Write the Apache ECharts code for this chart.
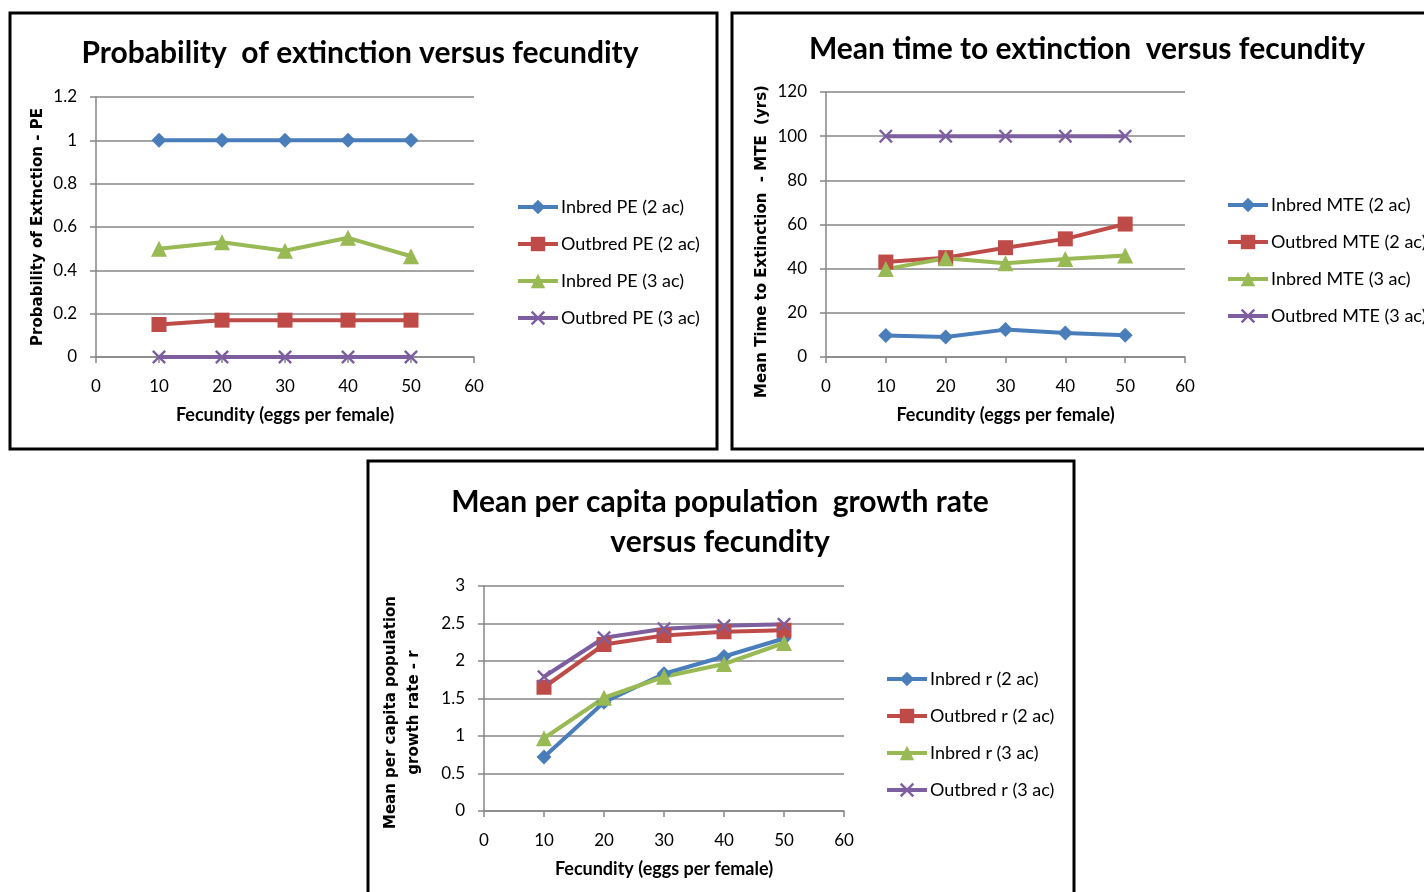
<!DOCTYPE html>
<html>
<head>
<meta charset="utf-8">
<script src="https://cdn.jsdelivr.net/npm/echarts@6/dist/echarts.min.js"></script>
<style>
  html, body { margin: 0; padding: 0; background: #fff; overflow: hidden; }
  #main { width: 1424px; height: 892px; }
</style>
</head>
<body>
<div id="main"></div>
<script>
// fecundity (eggs per female)
const fecundity = [10, 20, 30, 40, 50]

// probability of extinction
const peInbred2 = [1, 1, 1, 1, 1]
const peOutbred2 = [0.15, 0.17, 0.17, 0.17, 0.17]
const peInbred3 = [0.5, 0.53, 0.49, 0.55, 0.465]
const peOutbred3 = [0, 0, 0, 0, 0]

// mean time to extinction (yrs)
const mteInbred2 = [9.7, 9.1, 12.4, 10.9, 9.8]
const mteOutbred2 = [43, 45, 49.5, 53.5, 60.2]
const mteInbred3 = [39.8, 44.7, 42.4, 44.4, 46]
const mteOutbred3 = [100, 100, 100, 100, 100]

// mean per capita growth rate
const rInbred2 = [0.72, 1.45, 1.83, 2.06, 2.3]
const rOutbred2 = [1.65, 2.22, 2.34, 2.39, 2.41]
const rInbred3 = [0.97, 1.51, 1.79, 1.96, 2.24]
const rOutbred3 = [1.79, 2.31, 2.43, 2.47, 2.49]

const BLUE = "#4a7ebb"
const RED = "#be4b48"
const GREEN = "#98b954"
const PURPLE = "#7d5fa0"
const GRAY = "#868686"
const CAL = "Lato, 'Open Sans', sans-serif"
const XMARK = "path://M0,1.2L1.2,0L5,3.8L8.8,0L10,1.2L6.2,5L10,8.8L8.8,10L5,6.2L1.2,10L0,8.8L3.8,5Z"

const pairs = (ys) => fecundity.map((x, i) => [x, ys[i]])

const mkSeries = (name, ys, color, symbol, size, gi) => ({
  name: name,
  type: "line",
  xAxisIndex: gi,
  yAxisIndex: gi,
  data: pairs(ys),
  symbol: symbol,
  symbolSize: size,
  lineStyle: { color: color, width: 4 },
  itemStyle: { color: color },
  z: 3,
})

const mkX = (gi) => ({
  gridIndex: gi,
  type: "value",
  min: 0,
  max: 60,
  interval: 10,
  name: "Fecundity (eggs per female)",
  nameLocation: "middle",
  nameGap: 49,
  nameTextStyle: { fontFamily: CAL, fontWeight: "bold", fontSize: 18, color: "#000" },
  axisLine: { show: true, lineStyle: { color: GRAY, width: 1.5 } },
  axisTick: { show: true, length: 6, lineStyle: { color: GRAY, width: 1.5 } },
  axisLabel: { fontFamily: CAL, fontSize: 17, color: "#000", margin: 21 },
  splitLine: { show: false },
})

const mkY = (gi, max, interval, name, gap, pad) => ({
  gridIndex: gi,
  type: "value",
  min: 0,
  max: max,
  interval: interval,
  name: name,
  nameLocation: "middle",
  nameGap: gap,
  nameTextStyle: { fontFamily: "'DejaVu Sans', Verdana, sans-serif", fontWeight: "bold", fontSize: 15, color: "#000", lineHeight: 23, padding: pad },
  axisLine: { show: true, lineStyle: { color: GRAY, width: 1.5 } },
  axisTick: { show: true, length: 6, lineStyle: { color: GRAY, width: 1.5 } },
  axisLabel: { fontFamily: CAL, fontSize: 17, color: "#000", margin: 19 },
  splitLine: { show: true, lineStyle: { color: GRAY, width: 1.5 } },
})

const mkLegend = (names, left, top) => ({
  data: names,
  orient: "vertical",
  left: left,
  top: top,
  padding: 0,
  itemWidth: 40,
  itemHeight: 18,
  itemGap: 19,
  lineStyle: { width: 4 },
  textStyle: { fontFamily: CAL, fontSize: 18, color: "#000", padding: [0, 0, 0, -2] },
})

const titleStyle = { fontFamily: CAL, fontWeight: "bold", fontSize: 30, color: "#000", lineHeight: 40 }

let myChart = echarts.init(document.getElementById("main"))
myChart.setOption({
  animation: false,
  backgroundColor: "#fff",
  title: [
    { text: "Probability  of extinction versus fecundity", left: 360, top: 33, padding: 0, textAlign: "center", textStyle: titleStyle },
    { text: "Mean time to extinction  versus fecundity", left: 1087, top: 29, padding: 0, textAlign: "center", textStyle: titleStyle },
    { text: "Mean per capita population  growth rate\nversus fecundity", left: 720, top: 482, padding: 0, textAlign: "center", textStyle: titleStyle },
  ],
  graphic: [
    { type: "rect", shape: { x: 10, y: 13, width: 707, height: 436 }, style: { fill: "none", stroke: "#000", lineWidth: 3 } },
    { type: "rect", shape: { x: 732, y: 13, width: 720, height: 436 }, style: { fill: "none", stroke: "#000", lineWidth: 3 } },
    { type: "rect", shape: { x: 368, y: 461, width: 706, height: 460 }, style: { fill: "none", stroke: "#000", lineWidth: 3 } },
  ],
  legend: [
    mkLegend(["Inbred PE (2 ac)", "Outbred PE (2 ac)", "Inbred PE (3 ac)", "Outbred PE (3 ac)"], 516, 198),
    mkLegend(["Inbred MTE (2 ac)", "Outbred MTE (2 ac)", "Inbred MTE (3 ac)", "Outbred MTE (3 ac)"], 1226, 196),
    mkLegend(["Inbred r (2 ac)", "Outbred r (2 ac)", "Inbred r (3 ac)", "Outbred r (3 ac)"], 885, 670),
  ],
  grid: [
    { left: 96, top: 97, width: 378, height: 260 },
    { left: 826, top: 92, width: 359, height: 265 },
    { left: 484, top: 586, width: 360, height: 225 },
  ],
  xAxis: [mkX(0), mkX(1), mkX(2)],
  yAxis: [
    mkY(0, 1.2, 0.2, "Probability of Extnction - PE", 46, 0),
    mkY(1, 120, 20, "Mean Time to Extinction  - MTE  (yrs)", 51, [0, 34, 0, 0]),
    mkY(2, 3, 0.5, "Mean per capita population\ngrowth rate - r", 58, [0, 28, 0, 0]),
  ],
  series: [
    mkSeries("Inbred PE (2 ac)", peInbred2, BLUE, "diamond", 15, 0),
    mkSeries("Outbred PE (2 ac)", peOutbred2, RED, "rect", 15, 0),
    mkSeries("Inbred PE (3 ac)", peInbred3, GREEN, "triangle", 16, 0),
    mkSeries("Outbred PE (3 ac)", peOutbred3, PURPLE, XMARK, 14, 0),
    mkSeries("Inbred MTE (2 ac)", mteInbred2, BLUE, "diamond", 15, 1),
    mkSeries("Outbred MTE (2 ac)", mteOutbred2, RED, "rect", 15, 1),
    mkSeries("Inbred MTE (3 ac)", mteInbred3, GREEN, "triangle", 16, 1),
    mkSeries("Outbred MTE (3 ac)", mteOutbred3, PURPLE, XMARK, 14, 1),
    mkSeries("Inbred r (2 ac)", rInbred2, BLUE, "diamond", 15, 2),
    mkSeries("Outbred r (2 ac)", rOutbred2, RED, "rect", 15, 2),
    mkSeries("Inbred r (3 ac)", rInbred3, GREEN, "triangle", 16, 2),
    mkSeries("Outbred r (3 ac)", rOutbred3, PURPLE, XMARK, 14, 2),
  ],
})

window.addEventListener("resize", () => {
  myChart.resize()
})
</script>
</body>
</html>
